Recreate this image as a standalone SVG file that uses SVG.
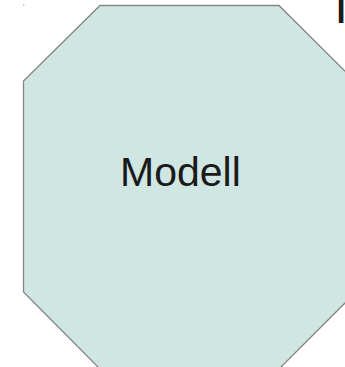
<svg xmlns="http://www.w3.org/2000/svg" width="345" height="367" viewBox="0 0 345 367">
<style>
.shape{fill:#cfe6e3;stroke:#858585;stroke-width:1.3}
.lbl{font-family:"Liberation Sans",Arial,sans-serif;fill:#1a1a1a}
</style>
<rect width="345" height="367" fill="#ffffff"/>
<g id="modell">
<polygon class="shape" points="100,5.5 279,5.5 356,82 356,292 279,369 100,369 23.5,292 23.5,81"/>
<text class="lbl" x="120" y="186" font-size="41">Modell</text>
</g>
<g id="edge-label">
<text class="lbl" x="336.5" y="23" font-size="33" font-weight="bold">l</text>
</g>
<rect x="23" y="4.5" width="1.5" height="1" fill="#aaaaaa"/>
<g id="connectors"></g>
</svg>
